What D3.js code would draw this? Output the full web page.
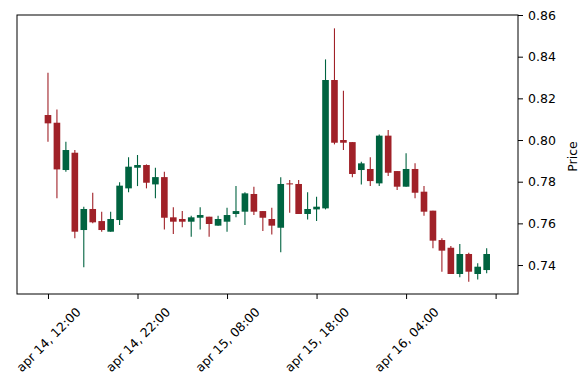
<!DOCTYPE html>
<html>
<head>
<meta charset="utf-8">
<script src="https://cdn.jsdelivr.net/npm/d3@7"></script>
<style>
  body { margin: 0; background: #fff; }
  svg text { font-family: "DejaVu Sans", sans-serif; font-size: 12.5px; fill: #000; }
</style>
</head>
<body>
<svg id="chart" width="587" height="390"></svg>
<script>
// hourly candles, starting apr 14 12:00
const opens = [0.812, 0.8083, 0.7856, 0.7939, 0.7568, 0.7669, 0.7611, 0.756, 0.7616, 0.7768,
  0.7867, 0.788, 0.7787, 0.7822, 0.7629, 0.7621, 0.7608, 0.7627, 0.7632, 0.7589,
  0.7608, 0.7645, 0.7656, 0.7741, 0.7659, 0.7621, 0.7579, 0.7792, 0.7789, 0.7645,
  0.7667, 0.7672, 0.8288, 0.8, 0.799, 0.7856, 0.7861, 0.7792, 0.8021, 0.7851,
  0.7776, 0.7861, 0.7752, 0.7661, 0.752, 0.7483, 0.7357, 0.7453, 0.7357, 0.7376];
const highs = [0.8323, 0.8147, 0.7992, 0.7952, 0.768, 0.7747, 0.7656, 0.7656, 0.7797, 0.7917,
  0.7928, 0.7883, 0.7867, 0.7848, 0.7677, 0.7659, 0.7637, 0.7677, 0.7632, 0.7637,
  0.7675, 0.7779, 0.7749, 0.7776, 0.7659, 0.7675, 0.7821, 0.7808, 0.7808, 0.7749,
  0.7728, 0.8387, 0.8536, 0.8237, 0.799, 0.7896, 0.7917, 0.8027, 0.8048, 0.7851,
  0.7936, 0.7888, 0.7779, 0.7661, 0.7528, 0.7491, 0.7501, 0.7459, 0.7408, 0.748];
const lows = [0.7992, 0.772, 0.7848, 0.7528, 0.7389, 0.76, 0.756, 0.756, 0.7592, 0.7749,
  0.7779, 0.7768, 0.772, 0.7571, 0.7549, 0.7581, 0.7536, 0.7571, 0.7536, 0.7589,
  0.756, 0.7629, 0.7592, 0.764, 0.7563, 0.7547, 0.7461, 0.7651, 0.7645, 0.7619,
  0.7611, 0.7667, 0.7979, 0.7952, 0.7821, 0.7787, 0.7779, 0.7779, 0.7827, 0.776,
  0.7776, 0.772, 0.7637, 0.748, 0.7368, 0.7357, 0.7341, 0.732, 0.7331, 0.736];
const closes = [0.808, 0.7859, 0.7952, 0.756, 0.7669, 0.7605, 0.7568, 0.7621, 0.7781, 0.7872,
  0.788, 0.7795, 0.7822, 0.7627, 0.7608, 0.7608, 0.7629, 0.764, 0.7597, 0.7621,
  0.764, 0.7659, 0.7744, 0.7656, 0.7627, 0.7589, 0.7789, 0.7787, 0.7645, 0.7669,
  0.768, 0.8288, 0.7987, 0.7987, 0.7837, 0.7888, 0.7803, 0.8021, 0.7843, 0.7776,
  0.7861, 0.7747, 0.7656, 0.7517, 0.7469, 0.7357, 0.7453, 0.7368, 0.7392, 0.7453];

const xTickIndex = [0, 10, 20, 30, 40, 50];
const xTickLabels = ["apr 14, 12:00", "apr 14, 22:00", "apr 15, 08:00", "apr 15, 18:00", "apr 16, 04:00", ""];
const yTicks = [0.74, 0.76, 0.78, 0.80, 0.82, 0.84, 0.86];

const upColor = "#006340", downColor = "#a02128";

const svg = d3.select("#chart");
const margin = {top: 15, right: 69, bottom: 96, left: 17};
const width = 587 - margin.left - margin.right,
      height = 390 - margin.top - margin.bottom;
const g = svg.append("g").attr("transform", "translate(" + margin.left + "," + margin.top + ")");

const candles = opens.map(function(o, i) {
  return {i: i, open: o, high: highs[i], low: lows[i], close: closes[i]};
});

const x = d3.scaleLinear().domain([-3.46, 52.5]).range([0, width]);
const y = d3.scaleLinear().domain([0.7261, 0.86]).range([height, 0]);
const bodyW = (x(1) - x(0)) * 0.74;

function colorOf(d) { return d.close >= d.open ? upColor : downColor; }

const candle = g.selectAll(".candle")
    .data(candles)
  .enter().append("g")
    .attr("class", "candle");

candle.append("line")
    .attr("x1", function(d) { return x(d.i); })
    .attr("x2", function(d) { return x(d.i); })
    .attr("y1", function(d) { return y(d.high); })
    .attr("y2", function(d) { return y(d.low); })
    .attr("stroke", colorOf)
    .attr("stroke-width", 1.1);

candle.append("rect")
    .attr("x", function(d) { return x(d.i) - bodyW / 2; })
    .attr("width", bodyW)
    .attr("y", function(d) { return y(Math.max(d.open, d.close)); })
    .attr("height", function(d) { return Math.max(1, Math.abs(y(d.open) - y(d.close))); })
    .attr("fill", colorOf);

// frame
g.append("rect")
    .attr("width", width)
    .attr("height", height)
    .attr("fill", "none")
    .attr("stroke", "#000")
    .attr("stroke-width", 1);

// right y axis
const yAxis = g.append("g")
    .attr("transform", "translate(" + width + ",0)")
    .call(d3.axisRight(y).tickValues(yTicks).tickSize(5).tickPadding(5).tickFormat(d3.format(".2f")));
yAxis.select(".domain").remove();
yAxis.selectAll("text").style("font-size", "12.5px").style("font-family", "DejaVu Sans");

// bottom x axis with rotated labels
const xAxis = g.append("g")
    .attr("transform", "translate(0," + height + ")")
    .call(d3.axisBottom(x).tickValues(xTickIndex).tickSize(5).tickFormat(function(d, i) { return xTickLabels[i]; }));
xAxis.select(".domain").remove();
xAxis.selectAll("text")
    .style("font-size", "12.5px")
    .style("font-family", "DejaVu Sans")
    .attr("text-anchor", "middle")
    .attr("dy", null)
    .attr("y", null)
    .attr("dominant-baseline", "central")
    .attr("transform", function() {
      const L = this.getComputedTextLength();
      const half = (L + 9) * Math.SQRT1_2 / 2;
      return "translate(0," + (12.5 + half) + ") rotate(-45)";
    });

g.append("text")
    .attr("transform", "translate(" + (width + 59) + "," + (height / 2 + 2) + ") rotate(-90)")
    .attr("text-anchor", "middle")
    .style("font-size", "12.5px")
    .text("Price");
</script>
</body>
</html>
